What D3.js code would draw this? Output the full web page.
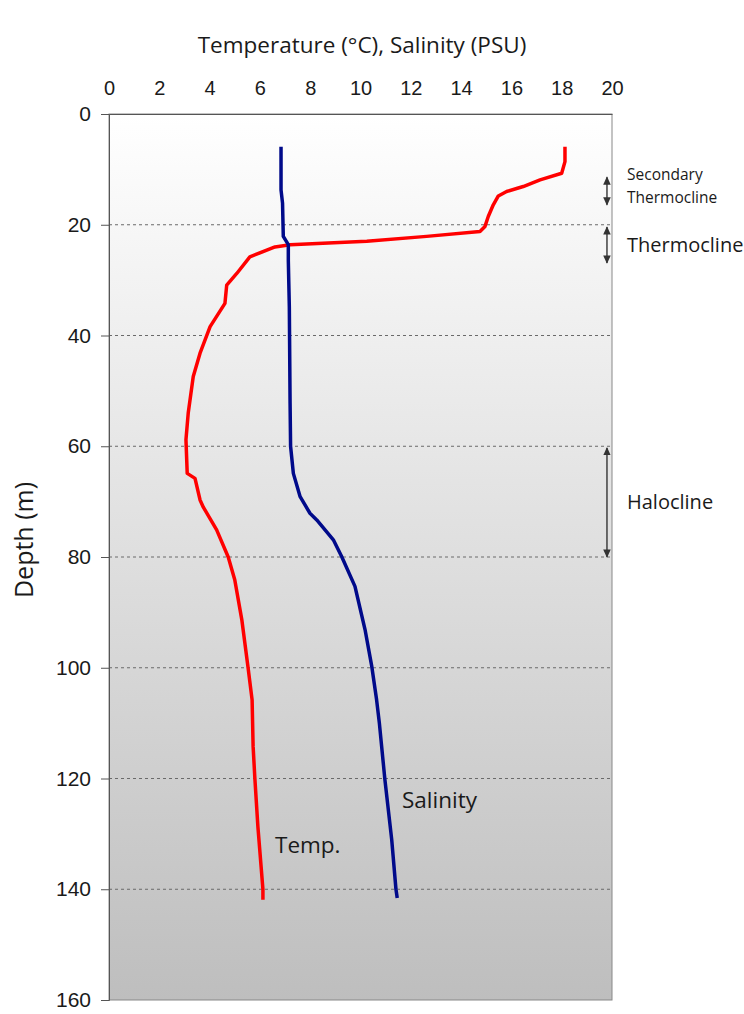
<!DOCTYPE html>
<html>
<head>
<meta charset="utf-8">
<script src="https://cdn.jsdelivr.net/npm/d3@7"></script>
<style>
  body { margin: 0; background: #fff; }
  svg text { fill: #1a1a1a; }
</style>
</head>
<body>
<svg id="chart" width="744" height="1014"></svg>
<script>
// temperature profile (depth m, deg C)
var tempDepth = [5.9, 8.6, 10.7, 11.9, 13.1, 14.0, 14.8, 16.4, 18.5, 20.3, 21.2, 22.1, 23.0, 23.6, 24.0,
                 25.8, 28.8, 30.9, 34.2, 38.4, 43.2, 47.4, 54.0, 58.8, 64.9, 65.8, 69.7, 71.0, 75.1,
                 80.0, 84.1, 91.3, 100, 105.8, 114.2, 120, 128.7, 140, 141.9];
var tempValues = [18.13, 18.13, 18.0, 17.14, 16.47, 15.81, 15.48, 15.28, 15.08, 14.95, 14.75, 12.63, 10.25, 7.2, 6.6,
                  5.6, 5.08, 4.68, 4.61, 4.02, 3.62, 3.35, 3.15, 3.06, 3.11, 3.42, 3.62, 3.75, 4.28,
                  4.74, 5.0, 5.28, 5.53, 5.69, 5.73, 5.8, 5.92, 6.12, 6.12];

// salinity profile (depth m, PSU)
var salDepth = [5.9, 13.7, 16.1, 22.1, 23.6, 26.4, 34.8, 52.2, 60.0, 64.9, 69.1, 72.1, 73.3, 76.9, 79.9,
                85.3, 93.1, 99.8, 105.8, 110, 120.2, 131, 140, 141.6];
var salValues = [6.84, 6.84, 6.9, 6.93, 7.13, 7.13, 7.17, 7.2, 7.22, 7.33, 7.6, 7.99, 8.26, 8.92, 9.25,
                 9.78, 10.18, 10.45, 10.64, 10.75, 10.97, 11.24, 11.41, 11.46];

var xTicks = [0, 2, 4, 6, 8, 10, 12, 14, 16, 18, 20];
var depthTicks = [0, 20, 40, 60, 80, 100, 120, 140, 160];
var gridDepths = [20, 40, 60, 80, 100, 120, 140];

// [label lines, top depth, bottom depth]
var zones = [
  [["Secondary", "Thermocline"], 11.4, 16.4],
  [["Thermocline"], 20.4, 26.9],
  [["Halocline"], 60.3, 80]
];

var svg = d3.select("#chart"),
    margin = {top: 114, left: 109},
    width = 503,
    height = 886,
    g = svg.append("g").attr("transform", "translate(" + margin.left + "," + margin.top + ")");

var x = d3.scaleLinear().domain([0, 20]).range([0, width]);
var y = d3.scaleLinear().domain([0, 160]).range([0, height]);

var labelFont = "'Open Sans', sans-serif";

var defs = svg.append("defs");
var grad = defs.append("linearGradient").attr("id", "bg")
    .attr("x1", 0).attr("y1", 0).attr("x2", 0).attr("y2", 1);
grad.append("stop").attr("offset", "0%").attr("stop-color", "#ffffff");
grad.append("stop").attr("offset", "100%").attr("stop-color", "#bebebe");

defs.append("marker").attr("id", "head")
    .attr("viewBox", "0 0 10 10").attr("refX", 9).attr("refY", 5)
    .attr("markerWidth", 6).attr("markerHeight", 6).attr("orient", "auto-start-reverse")
    .append("path").attr("d", "M0,0.5L10,5L0,9.5z").attr("fill", "#333");

g.append("rect")
    .attr("width", width).attr("height", height)
    .attr("fill", "url(#bg)")
    .attr("stroke", "#888").attr("stroke-width", 1);

g.selectAll(".grid")
    .data(gridDepths)
    .enter().append("line")
    .attr("class", "grid")
    .attr("x1", 0).attr("x2", width)
    .attr("y1", d => y(d)).attr("y2", d => y(d))
    .attr("stroke", "#6a6a6a").attr("stroke-width", 1)
    .attr("stroke-dasharray", "3,3");

var line = d3.line()
    .x(d => x(d[1]))
    .y(d => y(d[0]));

g.append("path")
    .datum(d3.zip(tempDepth, tempValues))
    .attr("d", line)
    .attr("fill", "none").attr("stroke", "#ff0000").attr("stroke-width", 3.5)
    .attr("stroke-linejoin", "round");

g.append("path")
    .datum(d3.zip(salDepth, salValues))
    .attr("d", line)
    .attr("fill", "none").attr("stroke", "#000a8a").attr("stroke-width", 3.5)
    .attr("stroke-linejoin", "round");

// axes
var yAxis = g.append("g")
    .call(d3.axisLeft(y).tickValues(depthTicks).tickSize(8).tickPadding(10));
yAxis.select(".domain").attr("stroke", "#555");
yAxis.selectAll(".tick line").attr("stroke", "#555");
yAxis.selectAll("text")
    .style("font-family", "'Liberation Sans', Arial, sans-serif")
    .style("font-size", "21px").attr("fill", "#1a1a1a");

var xAxis = g.append("g")
    .call(d3.axisTop(x).tickValues(xTicks).tickSize(0).tickPadding(19));
xAxis.select(".domain").attr("stroke", "#555");
xAxis.selectAll("text")
    .style("font-family", "'Liberation Sans', Arial, sans-serif")
    .style("font-size", "20px").attr("fill", "#1a1a1a");

svg.append("text")
    .attr("x", 362).attr("y", 53)
    .attr("text-anchor", "middle")
    .style("font-family", labelFont).style("font-size", "22.5px")
    .text("Temperature (°C), Salinity (PSU)");

svg.append("text")
    .attr("transform", "translate(33,540) rotate(-90)")
    .attr("text-anchor", "middle")
    .style("font-family", labelFont).style("font-size", "25px")
    .text("Depth (m)");

// series labels
g.append("text")
    .attr("x", x(6.6)).attr("y", y(133.5))
    .style("font-family", labelFont).style("font-size", "22.5px")
    .text("Temp.");
g.append("text")
    .attr("x", x(11.65)).attr("y", y(125.3))
    .style("font-family", labelFont).style("font-size", "22.5px")
    .text("Salinity");

// zone annotations
var zone = g.selectAll(".zone")
    .data(zones)
    .enter().append("g")
    .attr("class", "zone");

zone.append("line")
    .attr("x1", x(19.8)).attr("x2", x(19.8))
    .attr("y1", d => y(d[1])).attr("y2", d => y(d[2]))
    .attr("stroke", "#333").attr("stroke-width", 1.4)
    .attr("marker-start", "url(#head)").attr("marker-end", "url(#head)");

zone.each(function (d) {
  var small = d[0].length > 1,
      t = d3.select(this).append("text")
        .style("font-family", labelFont)
        .style("font-size", small ? "15.5px" : "20px");
  d[0].forEach(function (s, i) {
    t.append("tspan")
      .attr("x", width + 15)
      .attr("y", small ? y(d[1]) + 3 + i * 23 : (y(d[1]) + y(d[2])) / 2 + 7)
      .text(s);
  });
});
</script>
</body>
</html>
